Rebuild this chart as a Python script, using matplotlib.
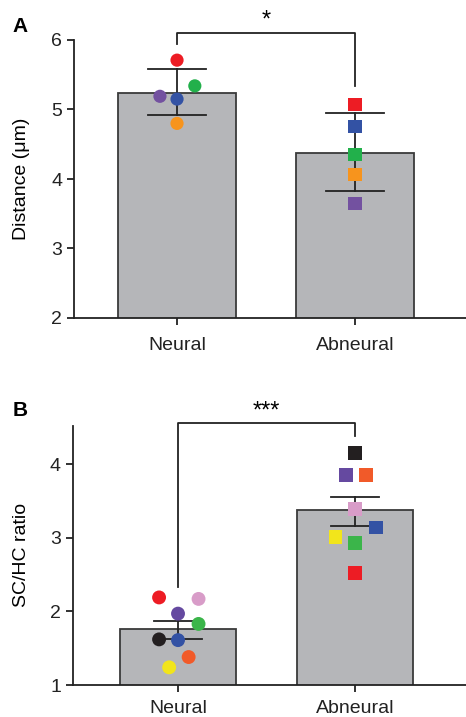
import numpy as np
import matplotlib.pyplot as plt

plt.rcParams['font.family'] = ['Liberation Sans', 'DejaVu Sans']

# data
groups = ["Neural", "Abneural"]

# panel A: distance (um)
a_means = [5.24, 4.38]
a_err_lo = [4.92, 3.83]
a_err_hi = [5.58, 4.945]
a_neural = [5.71, 5.34, 5.19, 5.15, 4.80]
a_neural_dx = [0.0, 0.10, -0.096, 0.0, 0.0]
a_abneural = [5.07, 4.76, 4.35, 4.06, 3.65]
a_abneural_dx = [0.0, 0.0, 0.0, 0.0, 0.0]
a_colors = ["#ed1c24", "#22b04b", "#7351a0", "#3352a4", "#f7941d"]
a_colors_ab = ["#ed1c24", "#3352a4", "#22b04b", "#f7941d", "#7351a0"]

# panel B: SC/HC ratio
b_means = [1.76, 3.38]
b_err_lo = [1.62, 3.16]
b_err_hi = [1.87, 3.555]
b_neural = [2.19, 2.17, 1.97, 1.83, 1.62, 1.61, 1.38, 1.24]
b_neural_dx = [-0.107, 0.116, 0.0, 0.116, -0.107, 0.0, 0.06, -0.05]
b_neural_c = ["#ed1c24", "#d89cc8", "#6549a0", "#3bb54a", "#231f20", "#3352a4", "#f15a29", "#f2e51b"]
b_abneural = [4.15, 3.86, 3.85, 3.39, 3.14, 3.01, 2.93, 2.52]
b_abneural_dx = [0.0, -0.05, 0.06, 0.0, 0.12, -0.11, 0.0, 0.0]
b_abneural_c = ["#231f20", "#6549a0", "#f15a29", "#d89cc8", "#3352a4", "#f2e51b", "#3bb54a", "#ed1c24"]

W, H = 466, 717
fig = plt.figure(figsize=(W / 100, H / 100), dpi=100)

bar_color = "#b5b6b9"
edge = "#3a3a3a"
lw = 1.3


def panel(ax, means, lo, hi, cap, pts_n, dx_n, c_n, pts_a, dx_a, c_a, ms, xpad):
    x = np.arange(len(groups))
    ax.bar(x, means, width=0.66, color=bar_color, edgecolor=edge, linewidth=lw, zorder=1)
    for i in range(2):
        ax.plot([x[i], x[i]], [lo[i], hi[i]], color="#222222", lw=lw, zorder=2)
        for v in (lo[i], hi[i]):
            ax.plot([x[i] - cap, x[i] + cap], [v, v], color="#222222", lw=lw, zorder=2)
    ax.scatter(x[0] + np.array(dx_n), pts_n, s=ms, c=c_n, marker="o", linewidths=0, zorder=3)
    ax.scatter(x[1] + np.array(dx_a), pts_a, s=ms, c=c_a, marker="s", linewidths=0, zorder=3)
    ax.set_xticks(x)
    ax.set_xticklabels(groups)
    for s in ("top", "right"):
        ax.spines[s].set_visible(False)
    for s in ("left", "bottom"):
        ax.spines[s].set_linewidth(lw)
        ax.spines[s].set_color("#222222")
    ax.tick_params(labelsize=14, length=5, width=lw, colors="#222222")
    ax.tick_params(axis="x", pad=xpad)
    ax.tick_params(axis="y", pad=3.5)


# panel A
axA = fig.add_axes([74 / W, 1 - 318 / H, (W - 74) / W, 278 / H])
panel(axA, a_means, a_err_lo, a_err_hi, 0.165, a_neural, a_neural_dx, a_colors,
      a_abneural, a_abneural_dx, a_colors_ab, 90, 9)
axA.set_xlim(-0.579, 1.624)
axA.set_ylim(2, 6)
axA.set_yticks([2, 3, 4, 5, 6])
axA.plot([0, 0, 1, 1], [5.94, 6.096, 6.096, 5.34], color="#222222", lw=lw, clip_on=False)
axA.text(0.5, 6.28, "*", ha="center", va="center", fontsize=17)
fig.text(22 / W, 1 - 179 / H, "Distance (\u03bcm)", rotation=90, ha="center", va="center", fontsize=14)
fig.text(20 / W, 1 - 26 / H, "A", ha="center", va="center", fontsize=15, fontweight="bold")

# panel B
axB = fig.add_axes([72.7 / W, 1 - 685 / H, (W - 72.7) / W, 259 / H])
panel(axB, b_means, b_err_lo, b_err_hi, 0.135, b_neural, b_neural_dx, b_neural_c,
      b_abneural, b_abneural_dx, b_abneural_c, 100, 5.5)
axB.set_xlim(-0.595, 1.627)
axB.set_ylim(1, 4.52)
axB.set_yticks([1, 2, 3, 4])
axB.plot([0, 0, 1, 1], [2.33, 4.565, 4.565, 4.38], color="#222222", lw=lw, clip_on=False)
axB.text(0.5, 4.72, "***", ha="center", va="center", fontsize=17)
fig.text(22 / W, 1 - 555 / H, "SC/HC ratio", rotation=90, ha="center", va="center", fontsize=14)
fig.text(20 / W, 1 - 410 / H, "B", ha="center", va="center", fontsize=15, fontweight="bold")

plt.savefig("out.png", dpi=100)
